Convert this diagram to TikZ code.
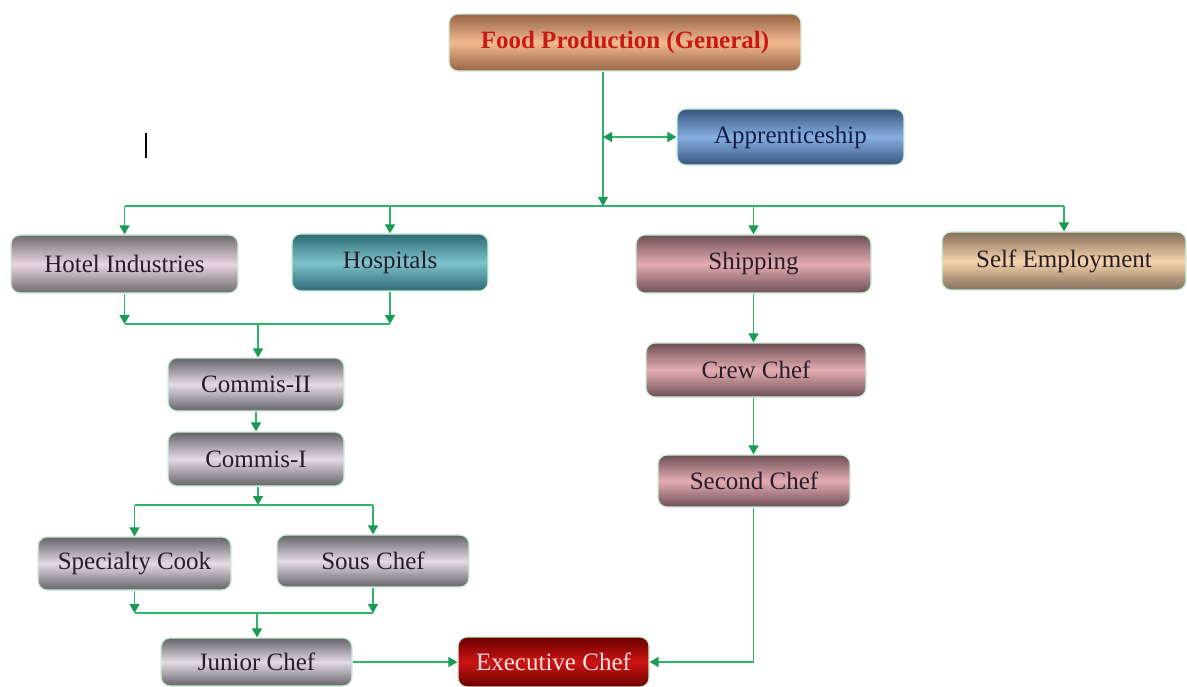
\documentclass[tikz,border=0pt]{standalone}
\usepackage{fontspec}
\setmainfont{Liberation Serif}
\usetikzlibrary{arrows.meta,calc}
\definecolor{lgreen}{RGB}{45,182,105}
\definecolor{agreen}{RGB}{25,155,85}
\definecolor{glow}{RGB}{205,240,215}
\definecolor{txt}{RGB}{40,30,40}
\definecolor{fpD}{RGB}{150,100,70}\definecolor{fpL}{RGB}{242,185,145}\definecolor{fpT}{RGB}{200,25,25}
\definecolor{apD}{RGB}{55,85,125}\definecolor{apL}{RGB}{135,175,225}\definecolor{apT}{RGB}{20,30,70}
\definecolor{hoD}{RGB}{110,108,110}\definecolor{hoL}{RGB}{232,212,226}
\definecolor{hsD}{RGB}{45,105,115}\definecolor{hsL}{RGB}{125,195,205}
\definecolor{shD}{RGB}{110,80,85}\definecolor{shL}{RGB}{228,172,178}
\definecolor{seD}{RGB}{130,110,90}\definecolor{seL}{RGB}{246,212,172}
\definecolor{grD}{RGB}{100,100,105}\definecolor{grL}{RGB}{228,218,228}
\definecolor{exD}{RGB}{105,0,0}\definecolor{exL}{RGB}{205,20,20}\definecolor{exT}{RGB}{255,225,225}
\begin{document}
\begin{tikzpicture}[x=1pt,y=-1pt,
  box/.style={rectangle,rounded corners=9pt,draw=glow,line width=1.2pt,inner sep=0pt,
    font=\fontsize{25}{30}\selectfont,text=txt},
  metal/.style 2 args={top color=#1,bottom color=#1,middle color=#2},
  conn/.style={draw=lgreen,line width=1.4pt},
  arr/.style={conn,-{Triangle[length=9pt,width=10pt,fill=agreen,color=agreen]}},
  darr/.style={conn,{Triangle[length=9pt,width=10pt,fill=agreen,color=agreen]}-{Triangle[length=9pt,width=10pt,fill=agreen,color=agreen]}}
]
\useasboundingbox[fill=white] (0,0) rectangle (1187,687);

% nodes
\node[box,metal={fpD}{fpL},minimum width=352pt,minimum height=57pt,text=fpT,
      font=\fontsize{25}{30}\selectfont\bfseries] (fp) at (625,42.5) {Food Production (General)};
\node[box,metal={apD}{apL},minimum width=227pt,minimum height=56pt,text=apT] (app) at (790.5,137) {Apprenticeship};
\node[box,metal={hoD}{hoL},minimum width=227pt,minimum height=58pt] (hotel) at (124.5,264) {Hotel Industries};
\node[box,metal={hsD}{hsL},minimum width=196pt,minimum height=57pt] (hosp) at (390,262.5) {Hospitals};
\node[box,metal={shD}{shL},minimum width=235pt,minimum height=58pt] (ship) at (753.5,264) {Shipping};
\node[box,metal={seD}{seL},minimum width=244pt,minimum height=58pt] (self) at (1064,261) {Self Employment};
\node[box,metal={grD}{grL},minimum width=176pt,minimum height=53pt] (c2) at (256,384.5) {Commis-II};
\node[box,metal={grD}{grL},minimum width=176pt,minimum height=54pt] (c1) at (256,459) {Commis-I};
\node[box,metal={grD}{grL},minimum width=193pt,minimum height=53pt] (spec) at (134.5,563.5) {Specialty Cook};
\node[box,metal={grD}{grL},minimum width=192pt,minimum height=52pt] (sous) at (373,561) {Sous Chef};
\node[box,metal={grD}{grL},minimum width=191pt,minimum height=48pt] (jun) at (256.5,662) {Junior Chef};
\node[box,metal={exD}{exL},minimum width=191pt,minimum height=50pt,text=exT] (exec) at (553.5,662) {Executive Chef};
\node[box,metal={shD}{shL},minimum width=220pt,minimum height=54pt] (crew) at (756,370) {Crew Chef};
\node[box,metal={shD}{shL},minimum width=192pt,minimum height=52pt] (second) at (754,481) {Second Chef};

% junction coordinates
\coordinate (j0) at (603,137);
\coordinate (j1) at (603,206);
\coordinate (j2) at (258,324);
\coordinate (j3) at (258,505);
\coordinate (j4) at (257,613);

% top
\draw[arr] (fp.south -| j1) -- (j1);
\draw[darr] (j0) -- (app.west |- j0);
\draw[conn] (hotel.north |- j1) -- (self.north |- j1);
\draw[arr] (hotel.north |- j1) -- (hotel.north);
\draw[arr] (hosp.north |- j1) -- (hosp.north);
\draw[arr] (ship.north |- j1) -- (ship.north);
\draw[arr] (self.north |- j1) -- (self.north);

% left branch
\draw[arr] (hotel.south) -- (hotel.south |- j2);
\draw[arr] (hosp.south) -- (hosp.south |- j2);
\draw[conn] (hotel.south |- j2) -- (hosp.south |- j2);
\draw[arr] (j2) -- (c2.north -| j2);
\draw[arr] (c2.south) -- (c1.north);
\draw[arr] (c1.south -| j3) -- (j3);
\draw[conn] (spec.north |- j3) -- (sous.north |- j3);
\draw[arr] (spec.north |- j3) -- (spec.north);
\draw[arr] (sous.north |- j3) -- (sous.north);
\draw[arr] (spec.south) -- (spec.south |- j4);
\draw[arr] (sous.south) -- (sous.south |- j4);
\draw[conn] (spec.south |- j4) -- (sous.south |- j4);
\draw[arr] (j4) -- (jun.north -| j4);
\draw[arr] (jun.east) -- (exec.west);

% right branch
\draw[arr] (ship.south) -- (crew.north -| ship.south);
\draw[arr] (crew.south -| ship.south) -- (second.north -| ship.south);
\draw[arr] (second.south -| ship.south) |- (exec.east);

% cursor mark
\draw[line width=1.6pt,black] (146,133) -- (146,158);
\end{tikzpicture}
\end{document}
